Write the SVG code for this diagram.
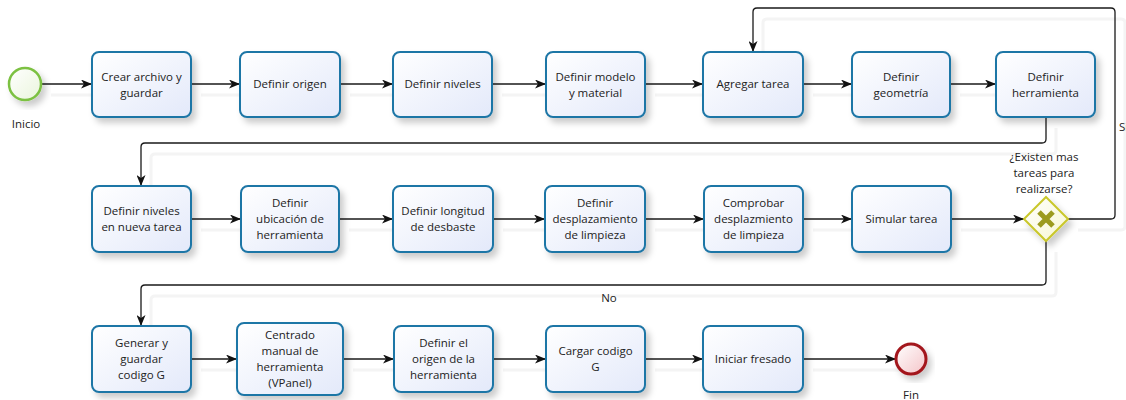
<svg xmlns="http://www.w3.org/2000/svg" width="1126" height="400" viewBox="0 0 1126 400">
  <style>
    .task rect { fill: url(#taskFill); stroke: #1f76a6; stroke-width: 2; filter: url(#shadow); }
    .lbl { font-family: "Open Sans", "DejaVu Sans", sans-serif; font-size: 11.5px; fill: #222; text-anchor: middle; }
    .edge { fill: none; stroke: #1a1a1a; stroke-width: 1.3; marker-end: url(#arrow); }
    .edge-shadow { fill: none; stroke: #f4f4f4; stroke-width: 3; }
  </style>
  <defs>
    <linearGradient id="taskFill" x1="0" y1="0" x2="1" y2="1">
      <stop offset="0" stop-color="#ffffff"/>
      <stop offset="1" stop-color="#e3e9fa"/>
    </linearGradient>
    <linearGradient id="startFill" x1="0" y1="0" x2="1" y2="1">
      <stop offset="0" stop-color="#ffffff"/>
      <stop offset="1" stop-color="#eaf5dc"/>
    </linearGradient>
    <linearGradient id="endFill" x1="0" y1="0" x2="1" y2="1">
      <stop offset="0" stop-color="#ffffff"/>
      <stop offset="1" stop-color="#f4c4c8"/>
    </linearGradient>
    <linearGradient id="gwFill" x1="0" y1="0" x2="1" y2="1">
      <stop offset="0" stop-color="#ffffff"/>
      <stop offset="1" stop-color="#f7f7d0"/>
    </linearGradient>
    <filter id="shadow" x="-20%" y="-20%" width="150%" height="150%">
      <feDropShadow dx="4" dy="5" stdDeviation="3" flood-color="#000" flood-opacity="0.2"/>
    </filter>
    <marker id="arrow" viewBox="0 0 11 9" refX="11" refY="4.5" markerWidth="11" markerHeight="9" markerUnits="userSpaceOnUse" orient="auto">
      <path d="M0,0 L11,4.5 L0,9 L3,4.5 z" fill="#111"/>
    </marker>
  </defs>

  <!-- faint cast shadows of the sequence flows -->
  <g id="connector-shadows" class="edge-shadow" transform="translate(10,11)">
    <path d="M41,84 H92 M191,84 H240 M340,84 H393 M492,84 H546 M645,84 H703 M803,84 H852 M950,84 H996"/>
    <path d="M1046,117 V139 Q1046,143 1042,143 H145 Q141,143 141,147 V186"/>
    <path d="M191,219 H241 M339,219 H393 M493,219 H545 M645,219 H704 M803,219 H852 M951,219 H1024"/>
    <path d="M1068,219 H1111 Q1115,219 1115,215 V12 Q1115,8 1111,8 H757 Q753,8 753,12 V52"/>
    <path d="M1046,241 V281 Q1046,285 1042,285 H145 Q141,285 141,289 V326"/>
    <path d="M191,359 H237 M343,359 H394 M493,359 H546 M645,359 H703 M803,359 H896"/>
  </g>

  <!-- sequence flows -->
  <g id="connectors">
    <path class="edge" d="M41,84 H92"/>
    <path class="edge" d="M191,84 H240"/>
    <path class="edge" d="M340,84 H393"/>
    <path class="edge" d="M492,84 H546"/>
    <path class="edge" d="M645,84 H703"/>
    <path class="edge" d="M803,84 H852"/>
    <path class="edge" d="M950,84 H996"/>
    <path class="edge" d="M1046,117 V139 Q1046,143 1042,143 H145 Q141,143 141,147 V186"/>
    <path class="edge" d="M191,219 H241"/>
    <path class="edge" d="M339,219 H393"/>
    <path class="edge" d="M493,219 H545"/>
    <path class="edge" d="M645,219 H704"/>
    <path class="edge" d="M803,219 H852"/>
    <path class="edge" d="M951,219 H1024"/>
    <path class="edge" d="M1068,219 H1111 Q1115,219 1115,215 V12 Q1115,8 1111,8 H757 Q753,8 753,12 V52"/>
    <path class="edge" d="M1046,241 V281 Q1046,285 1042,285 H145 Q141,285 141,289 V326"/>
    <path class="edge" d="M191,359 H237"/>
    <path class="edge" d="M343,359 H394"/>
    <path class="edge" d="M493,359 H546"/>
    <path class="edge" d="M645,359 H703"/>
    <path class="edge" d="M803,359 H896"/>
    <text class="lbl" x="1119" y="131" style="text-anchor:start">Si</text>
    <text class="lbl" x="609" y="302">No</text>
  </g>

  <!-- start event -->
  <g id="inicio">
    <circle cx="25" cy="84" r="16" fill="url(#startFill)" stroke="#7cc142" stroke-width="2.5" filter="url(#shadow)"/>
    <text class="lbl" x="26" y="128">Inicio</text>
  </g>

  <!-- row 1 -->
  <g id="crear-archivo" class="task">
    <rect x="92" y="52" width="99" height="65" rx="7"/>
    <text class="lbl" x="141.5" y="81">Crear archivo y</text>
    <text class="lbl" x="141.5" y="97">guardar</text>
  </g>
  <g id="definir-origen" class="task">
    <rect x="240" y="52" width="100" height="65" rx="7"/>
    <text class="lbl" x="290" y="88">Definir origen</text>
  </g>
  <g id="definir-niveles" class="task">
    <rect x="393" y="52" width="99" height="65" rx="7"/>
    <text class="lbl" x="442.5" y="88">Definir niveles</text>
  </g>
  <g id="definir-modelo" class="task">
    <rect x="546" y="52" width="99" height="65" rx="7"/>
    <text class="lbl" x="595.5" y="81">Definir modelo</text>
    <text class="lbl" x="595.5" y="97">y material</text>
  </g>
  <g id="agregar-tarea" class="task">
    <rect x="703" y="52" width="100" height="65" rx="7"/>
    <text class="lbl" x="753" y="88">Agregar tarea</text>
  </g>
  <g id="definir-geometria" class="task">
    <rect x="852" y="52" width="98" height="65" rx="7"/>
    <text class="lbl" x="901" y="81">Definir</text>
    <text class="lbl" x="901" y="97">geometría</text>
  </g>
  <g id="definir-herramienta" class="task">
    <rect x="996" y="52" width="99" height="65" rx="7"/>
    <text class="lbl" x="1045.5" y="81">Definir</text>
    <text class="lbl" x="1045.5" y="97">herramienta</text>
  </g>

  <!-- row 2 -->
  <g id="niveles-nueva-tarea" class="task">
    <rect x="92" y="186" width="99" height="66" rx="7"/>
    <text class="lbl" x="141.5" y="215">Definir niveles</text>
    <text class="lbl" x="141.5" y="231">en nueva tarea</text>
  </g>
  <g id="ubicacion-herramienta" class="task">
    <rect x="241" y="186" width="98" height="66" rx="7"/>
    <text class="lbl" x="290" y="207">Definir</text>
    <text class="lbl" x="290" y="223">ubicación de</text>
    <text class="lbl" x="290" y="239">herramienta</text>
  </g>
  <g id="longitud-desbaste" class="task">
    <rect x="393" y="186" width="100" height="66" rx="7"/>
    <text class="lbl" x="443" y="215">Definir longitud</text>
    <text class="lbl" x="443" y="231">de desbaste</text>
  </g>
  <g id="desplazamiento-limpieza" class="task">
    <rect x="545" y="186" width="100" height="66" rx="7"/>
    <text class="lbl" x="595" y="207">Definir</text>
    <text class="lbl" x="595" y="223">desplazamiento</text>
    <text class="lbl" x="595" y="239">de limpieza</text>
  </g>
  <g id="comprobar-desplazamiento" class="task">
    <rect x="704" y="186" width="99" height="66" rx="7"/>
    <text class="lbl" x="753.5" y="207">Comprobar</text>
    <text class="lbl" x="753.5" y="223">desplazmiento</text>
    <text class="lbl" x="753.5" y="239">de limpieza</text>
  </g>
  <g id="simular-tarea" class="task">
    <rect x="852" y="186" width="99" height="66" rx="7"/>
    <text class="lbl" x="901.5" y="223">Simular tarea</text>
  </g>

  <!-- exclusive gateway -->
  <g id="gateway">
    <path d="M1046,197 L1068,219 L1046,241 L1024,219 z" fill="url(#gwFill)" stroke="#c9c72a" stroke-width="2" filter="url(#shadow)"/>
    <path d="M1039,212 L1053,226 M1053,212 L1039,226" stroke="#9c9b1f" stroke-width="5" stroke-linecap="butt"/>
    <text class="lbl" x="1044" y="161">¿Existen mas</text>
    <text class="lbl" x="1044" y="177">tareas para</text>
    <text class="lbl" x="1044" y="193">realizarse?</text>
  </g>

  <!-- row 3 -->
  <g id="generar-codigo" class="task">
    <rect x="92" y="326" width="99" height="66" rx="7"/>
    <text class="lbl" x="141.5" y="347">Generar y</text>
    <text class="lbl" x="141.5" y="363">guardar</text>
    <text class="lbl" x="141.5" y="379">codigo G</text>
  </g>
  <g id="centrado-manual" class="task">
    <rect x="237" y="323" width="106" height="72" rx="7"/>
    <text class="lbl" x="290" y="339">Centrado</text>
    <text class="lbl" x="290" y="355">manual de</text>
    <text class="lbl" x="290" y="371">herramienta</text>
    <text class="lbl" x="290" y="387">(VPanel)</text>
  </g>
  <g id="origen-herramienta" class="task">
    <rect x="394" y="326" width="99" height="66" rx="7"/>
    <text class="lbl" x="443.5" y="347">Definir el</text>
    <text class="lbl" x="443.5" y="363">origen de la</text>
    <text class="lbl" x="443.5" y="379">herramienta</text>
  </g>
  <g id="cargar-codigo" class="task">
    <rect x="546" y="326" width="99" height="66" rx="7"/>
    <text class="lbl" x="595.5" y="355">Cargar codigo</text>
    <text class="lbl" x="595.5" y="371">G</text>
  </g>
  <g id="iniciar-fresado" class="task">
    <rect x="703" y="326" width="100" height="66" rx="7"/>
    <text class="lbl" x="753" y="363">Iniciar fresado</text>
  </g>

  <!-- end event -->
  <g id="fin">
    <circle cx="911" cy="359" r="15" fill="url(#endFill)" stroke="#a3151c" stroke-width="3" filter="url(#shadow)"/>
    <text class="lbl" x="911" y="399">Fin</text>
  </g>
</svg>
